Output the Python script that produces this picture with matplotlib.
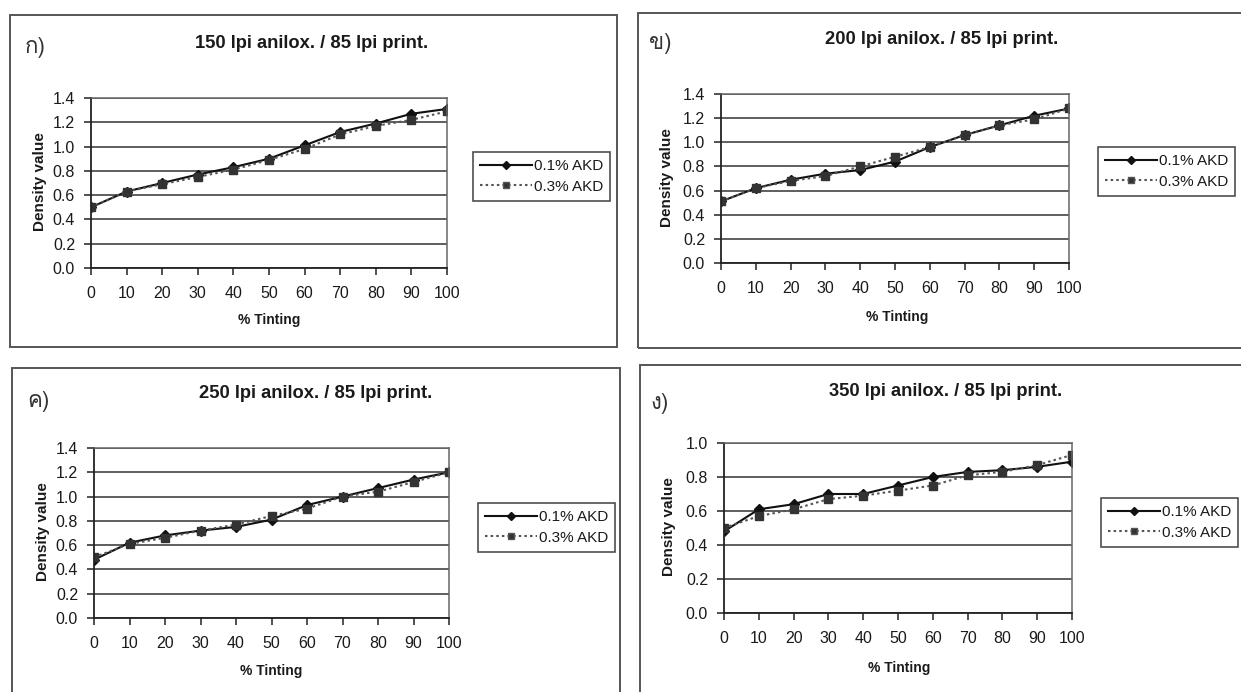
import matplotlib
matplotlib.use("Agg")
import matplotlib.pyplot as plt
from matplotlib import font_manager, ft2font
from matplotlib.patches import Rectangle
from matplotlib.lines import Line2D

# ---- data -------------------------------------------------------------
tinting = [0, 10, 20, 30, 40, 50, 60, 70, 80, 90, 100]

akd01_150 = [0.50, 0.63, 0.70, 0.77, 0.83, 0.90, 1.01, 1.12, 1.19, 1.27, 1.31]
akd03_150 = [0.50, 0.63, 0.69, 0.75, 0.81, 0.89, 0.98, 1.10, 1.17, 1.22, 1.29]

akd01_200 = [0.51, 0.62, 0.69, 0.74, 0.77, 0.84, 0.96, 1.06, 1.14, 1.22, 1.28]
akd03_200 = [0.51, 0.62, 0.68, 0.72, 0.80, 0.88, 0.96, 1.06, 1.14, 1.19, 1.28]

akd01_250 = [0.48, 0.62, 0.68, 0.72, 0.75, 0.81, 0.93, 1.00, 1.07, 1.14, 1.20]
akd03_250 = [0.50, 0.61, 0.66, 0.72, 0.77, 0.84, 0.90, 1.00, 1.04, 1.12, 1.20]

akd01_350 = [0.48, 0.61, 0.64, 0.70, 0.70, 0.75, 0.80, 0.83, 0.84, 0.86, 0.89]
akd03_350 = [0.50, 0.57, 0.61, 0.67, 0.69, 0.72, 0.75, 0.81, 0.83, 0.87, 0.93]

panel_letters = ["ก)", "ข)", "ค)", "ง)"]
panel_titles = ["150 lpi anilox. / 85 lpi print.",
                "200 lpi anilox. / 85 lpi print.",
                "250 lpi anilox. / 85 lpi print.",
                "350 lpi anilox. / 85 lpi print."]
series_names = ["0.1% AKD", "0.3% AKD"]
x_label = "% Tinting"
y_label = "Density value"

# ---- fonts ------------------------------------------------------------
def font_with(codepoint):
    for f in font_manager.fontManager.ttflist:
        try:
            if codepoint in ft2font.FT2Font(f.fname).get_charmap():
                return f.name
        except Exception:
            pass
    return None

thai_font = font_with(0x0E01)
letter_family = ([thai_font] if thai_font else []) + ["DejaVu Sans"]
SANS = ["Liberation Sans", "DejaVu Sans"]
plt.rcParams["font.family"] = SANS

W, H = 1241, 692
fig = plt.figure(figsize=(W / 100, H / 100), dpi=100)
fig.patch.set_facecolor("white")


def fx(px):
    return px / W


def fy(py):
    return 1 - py / H


INK = "#1a1a1a"
SOLID = dict(color="#111111", linestyle="-", linewidth=1.5)
DOTTED = dict(color="#555555", linestyle=(0, (1.2, 1.5)), linewidth=1.5)

# layout of each panel in pixels
panels = [
    dict(box=(10, 15, 617, 347), letter=(35, 48), title=(312, 43),
         plot=(91, 98, 447, 268), ymax=1.4, ylab=(40, 182), xlab=(269, 320),
         leg=(473, 152, 617, 208), s1=akd01_150, s2=akd03_150),
    dict(box=(638, 13, 1260, 348), letter=(660, 44), title=(942, 40),
         plot=(721, 94, 1069, 263), ymax=1.4, ylab=(667, 178), xlab=(897, 317),
         leg=(1098, 147, 1262, 203), s1=akd01_200, s2=akd03_200),
    dict(box=(12, 368, 620, 700), letter=(38, 401), title=(316, 393),
         plot=(94, 448, 449, 618), ymax=1.4, ylab=(43, 532), xlab=(271, 671),
         leg=(478, 503, 615, 557), s1=akd01_250, s2=akd03_250),
    dict(box=(640, 365, 1260, 700), letter=(660, 404), title=(946, 391),
         plot=(724, 443, 1072, 613), ymax=1.0, ylab=(669, 527), xlab=(899, 668),
         leg=(1101, 498, 1265, 554), s1=akd01_350, s2=akd03_350),
]

for i, p in enumerate(panels):
    bx0, by0, bx1, by1 = p["box"]
    fig.patches.append(Rectangle((fx(bx0), fy(by1)), fx(bx1 - bx0), (by1 - by0) / H,
                                 transform=fig.transFigure, fill=False,
                                 edgecolor="#555555", linewidth=1.4))
    fig.text(fx(p["letter"][0]), fy(p["letter"][1]), panel_letters[i],
             family=letter_family, fontsize=16, color="#333333", ha="center", va="center")
    fig.text(fx(p["title"][0]), fy(p["title"][1]), panel_titles[i],
             fontsize=13.2, fontweight="bold", color=INK, ha="center", va="center")

    px0, py0, px1, py1 = p["plot"]
    ax = fig.add_axes([fx(px0), fy(py1), fx(px1 - px0), (py1 - py0) / H])
    ax.plot(tinting, p["s1"], **SOLID, marker="D", markersize=5.5,
            markerfacecolor="#111111", markeredgecolor="#111111")
    ax.plot(tinting, p["s2"], **DOTTED, marker="s", markersize=5.5,
            markerfacecolor="#333333", markeredgecolor="#333333")
    ax.set_xlim(0, 100)
    ax.set_ylim(0, p["ymax"])
    ax.set_xticks(tinting)
    step = 0.2
    n = int(round(p["ymax"] / step))
    yt = [k * step for k in range(n + 1)]
    ax.set_yticks(yt)
    ax.set_yticklabels([f"{v:.1f}" for v in yt])
    ax.yaxis.grid(True, color="#333333", linewidth=1.1)
    ax.set_axisbelow(True)
    for side in ("left", "bottom"):
        ax.spines[side].set_color("#222222")
        ax.spines[side].set_linewidth(1.3)
    for side in ("top", "right"):
        ax.spines[side].set_color("#666666")
        ax.spines[side].set_linewidth(1.1)
    ax.tick_params(axis="both", direction="out", length=5, width=1.1, color="#222222",
                   labelsize=11.5, labelcolor=INK)
    ax.tick_params(axis="x", pad=8)
    ax.tick_params(axis="y", pad=6.5)

    fig.text(fx(p["xlab"][0]), fy(p["xlab"][1]), x_label, fontsize=10,
             fontweight="bold", color=INK, ha="center", va="center")
    fig.text(fx(p["ylab"][0]), fy(p["ylab"][1]), y_label, fontsize=11,
             fontweight="bold", color=INK, ha="center", va="center", rotation=90)

    lx0, ly0, lx1, ly1 = p["leg"]
    handles = [
        Line2D([], [], **SOLID, marker="D", markersize=4.5, markerfacecolor="#111111"),
        Line2D([], [], **DOTTED, marker="s", markersize=4.5, markerfacecolor="#333333"),
    ]
    leg = fig.legend(handles, series_names, loc="upper left",
                     bbox_to_anchor=(fx(lx0), fy(ly0)), bbox_transform=fig.transFigure,
                     fontsize=11, frameon=True, fancybox=False, borderpad=0.45,
                     handlelength=3.4, handletextpad=0.15, labelspacing=0.45,
                     borderaxespad=0.0)
    leg.get_frame().set_edgecolor("#222222")
    leg.get_frame().set_linewidth(1.2)
    for t in leg.get_texts():
        t.set_color(INK)

fig.savefig("out.png", dpi=100, facecolor="white")
